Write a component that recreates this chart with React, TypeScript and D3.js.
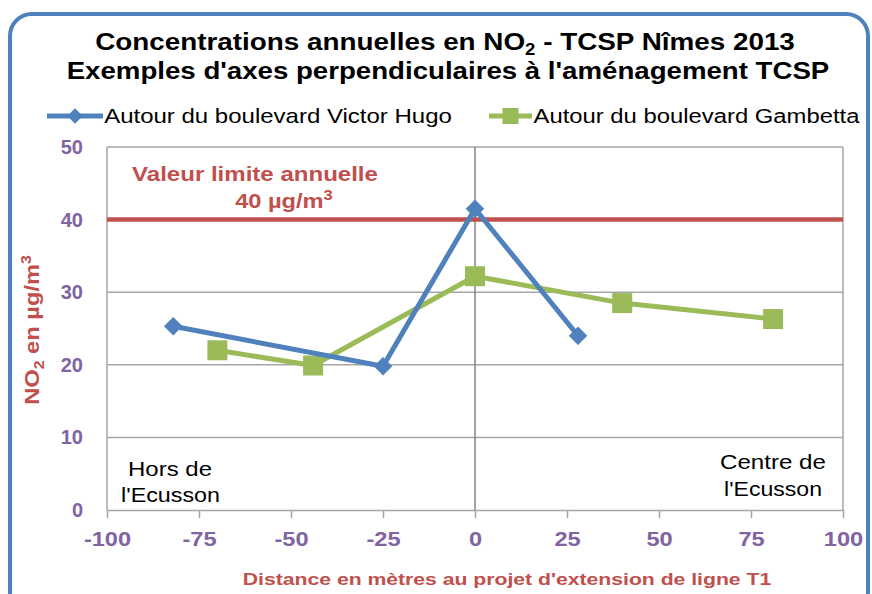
import { useEffect, useRef } from 'react'
import * as d3 from 'd3'

// data
const hugoX = [-82, -25, 0, 28]
const hugoY = [25.3, 19.8, 41.5, 24.0]
const gambettaX = [-70, -44, 0, 40, 81]
const gambettaY = [22.0, 19.9, 32.2, 28.5, 26.3]
const xTicks = [-100, -75, -50, -25, 0, 25, 50, 75, 100]
const yTicks = [0, 10, 20, 30, 40, 50]
const limitValue = 40

const BLUE = '#4F81BD'
const GREEN = '#9BBB59'
const RED = '#C0504D'
const PURPLE = '#8064A2'
const FONT = 'Liberation Sans, Arial, sans-serif'

// stretch a text horizontally so it spans targetW, keeping cx fixed
const fitWidth = (sel, cx, targetW) => {
	const w = sel.node().getBBox().width
	const s = targetW / w
	sel.attr('transform', `translate(${cx},0) scale(${s},1) translate(${-cx},0)`)
}

const App = () => {
	const svgRef = useRef(null)

	useEffect(() => {
		const width = 872
		const height = 594
		const margin = { top: 147, right: 29, bottom: 84, left: 107 }

		d3.select(svgRef.current).selectAll('*').remove()
		const svg = d3.select(svgRef.current).attr('width', width).attr('height', height)

		svg.append('rect').attr('width', width).attr('height', height).attr('fill', 'white')

		// rounded frame
		svg
			.append('rect')
			.attr('x', 10)
			.attr('y', 14)
			.attr('width', 858)
			.attr('height', 600)
			.attr('rx', 22)
			.attr('fill', 'white')
			.attr('stroke', BLUE)
			.attr('stroke-width', 4)

		const x = d3.scaleLinear().domain([-100, 100]).range([margin.left, width - margin.right])
		const y = d3.scaleLinear().domain([0, 50]).range([height - margin.bottom, margin.top])

		// gridlines
		svg
			.append('g')
			.selectAll('line')
			.data(yTicks.filter((d) => d > 0))
			.join('line')
			.attr('x1', x(-100))
			.attr('x2', x(100))
			.attr('y1', (d) => y(d))
			.attr('y2', (d) => y(d))
			.attr('stroke', '#A6A6A6')
			.attr('stroke-width', 1.5)

		// plot frame sides + zero line
		svg
			.append('g')
			.selectAll('line')
			.data([-100, 0, 100])
			.join('line')
			.attr('x1', (d) => x(d))
			.attr('x2', (d) => x(d))
			.attr('y1', y(50))
			.attr('y2', y(0))
			.attr('stroke', (d) => (d === 0 ? '#868686' : '#A6A6A6'))
			.attr('stroke-width', 1.5)

		// x axis
		const xAxis = svg
			.append('g')
			.attr('transform', `translate(0,${y(0)})`)
			.call(
				d3
					.axisBottom(x)
					.tickValues(xTicks)
					.tickSize(8)
					.tickSizeOuter(0)
					.tickPadding(14)
					.tickFormat((d) => String(d))
			)
		xAxis.select('.domain').attr('stroke', '#A6A6A6').attr('stroke-width', 1.5)
		xAxis.selectAll('.tick line').attr('stroke', '#A6A6A6').attr('stroke-width', 1.5)
		xAxis
			.selectAll('text')
			.attr('fill', PURPLE)
			.style('font', `bold 20px ${FONT}`)
			.each(function () {
				const t = d3.select(this)
				fitWidth(t, 0, this.getBBox().width * 1.18)
			})

		// y axis labels
		svg
			.append('g')
			.selectAll('text')
			.data(yTicks)
			.join('text')
			.attr('x', 83)
			.attr('y', (d) => y(d))
			.attr('dy', '0.35em')
			.attr('text-anchor', 'end')
			.attr('fill', PURPLE)
			.style('font', `bold 20px ${FONT}`)
			.text((d) => d)

		// limit line
		svg
			.append('line')
			.attr('x1', x(-100))
			.attr('x2', x(100))
			.attr('y1', y(limitValue))
			.attr('y2', y(limitValue))
			.attr('stroke', RED)
			.attr('stroke-width', 4.5)

		const line = d3
			.line()
			.x((d) => x(d[0]))
			.y((d) => y(d[1]))

		const hugo = hugoX.map((v, i) => [v, hugoY[i]])
		const gamb = gambettaX.map((v, i) => [v, gambettaY[i]])

		svg
			.append('path')
			.datum(gamb)
			.attr('d', line)
			.attr('fill', 'none')
			.attr('stroke', GREEN)
			.attr('stroke-width', 5)
			.attr('stroke-linejoin', 'round')
		svg
			.append('g')
			.selectAll('rect')
			.data(gamb)
			.join('rect')
			.attr('x', (d) => x(d[0]) - 10)
			.attr('y', (d) => y(d[1]) - 10)
			.attr('width', 20)
			.attr('height', 20)
			.attr('fill', GREEN)

		svg
			.append('path')
			.datum(hugo)
			.attr('d', line)
			.attr('fill', 'none')
			.attr('stroke', BLUE)
			.attr('stroke-width', 5)
			.attr('stroke-linejoin', 'round')
		const diamond = d3.symbol().type(d3.symbolDiamond2).size(220)
		svg
			.append('g')
			.selectAll('path')
			.data(hugo)
			.join('path')
			.attr('transform', (d) => `translate(${x(d[0])},${y(d[1])})`)
			.attr('d', diamond)
			.attr('fill', BLUE)

		// title
		const t1 = svg
			.append('text')
			.attr('x', 445)
			.attr('y', 50)
			.attr('text-anchor', 'middle')
			.attr('fill', 'black')
			.style('font', `bold 24px ${FONT}`)
		t1.append('tspan').text('Concentrations annuelles en NO')
		t1.append('tspan').attr('dy', 5).style('font-size', '16px').text('2')
		t1.append('tspan').attr('dy', -5).text(' - TCSP Nîmes 2013')
		fitWidth(t1, 445, 700)
		const t2 = svg
			.append('text')
			.attr('x', 448)
			.attr('y', 79)
			.attr('text-anchor', 'middle')
			.attr('fill', 'black')
			.style('font', `bold 24px ${FONT}`)
			.text("Exemples d'axes perpendiculaires à l'aménagement TCSP")
		fitWidth(t2, 448, 763)

		// legend
		const items = [
			{ label: 'Autour du boulevard Victor Hugo', color: BLUE, x0: 47, lw: 56, tw: 348, kind: 'diamond' },
			{ label: 'Autour du boulevard Gambetta', color: GREEN, x0: 489, lw: 43, tw: 327, kind: 'square' },
		]
		items.forEach((it) => {
			const g = svg.append('g').attr('transform', `translate(${it.x0},116)`)
			g.append('line').attr('x1', 0).attr('x2', it.lw).attr('stroke', it.color).attr('stroke-width', 5)
			if (it.kind === 'diamond') {
				g.append('path')
					.attr('transform', `translate(${it.lw / 2},0)`)
					.attr('d', d3.symbol().type(d3.symbolDiamond2).size(150))
					.attr('fill', it.color)
			} else {
				g.append('rect')
					.attr('x', it.lw / 2 - 8)
					.attr('y', -8)
					.attr('width', 16)
					.attr('height', 16)
					.attr('fill', it.color)
			}
			const tx = g
				.append('text')
				.attr('x', it.lw + 1 + it.tw / 2)
				.attr('dy', '0.35em')
				.attr('text-anchor', 'middle')
				.attr('fill', 'black')
				.style('font', `20px ${FONT}`)
				.text(it.label)
			fitWidth(tx, it.lw + 1 + it.tw / 2, it.tw)
		})

		// limit annotation
		const a1 = svg
			.append('text')
			.attr('x', 255)
			.attr('y', 181)
			.attr('text-anchor', 'middle')
			.attr('fill', RED)
			.style('font', `bold 20px ${FONT}`)
			.text('Valeur limite annuelle')
		fitWidth(a1, 255, 246)
		const a2 = svg
			.append('text')
			.attr('x', 284)
			.attr('y', 208)
			.attr('text-anchor', 'middle')
			.attr('fill', RED)
			.style('font', `bold 20px ${FONT}`)
		a2.append('tspan').text('40 µg/m')
		a2.append('tspan').attr('dy', -8).style('font-size', '14px').text('3')
		fitWidth(a2, 284, 98)

		// side notes
		const notes = [
			{ text: 'Hors de', cx: 170, y: 476, w: 84 },
			{ text: "l'Ecusson", cx: 170.5, y: 502, w: 99 },
			{ text: 'Centre de', cx: 773, y: 469, w: 106 },
			{ text: "l'Ecusson", cx: 773, y: 496, w: 98 },
		]
		notes.forEach((n) => {
			const t = svg
				.append('text')
				.attr('x', n.cx)
				.attr('y', n.y)
				.attr('text-anchor', 'middle')
				.attr('fill', 'black')
				.style('font', `20px ${FONT}`)
				.text(n.text)
			fitWidth(t, n.cx, n.w)
		})

		// axis titles
		const xt = svg
			.append('text')
			.attr('x', 507)
			.attr('y', 585)
			.attr('text-anchor', 'middle')
			.attr('fill', RED)
			.style('font', `bold 17px ${FONT}`)
			.text("Distance en mètres au projet d'extension de ligne T1")
		fitWidth(xt, 507, 529)

		const ytg = svg.append('g').attr('transform', `translate(39,330) rotate(-90)`)
		const yt = ytg
			.append('text')
			.attr('text-anchor', 'middle')
			.attr('fill', RED)
			.style('font', `bold 21px ${FONT}`)
		yt.append('tspan').text('NO')
		yt.append('tspan').attr('dy', 5).style('font-size', '14px').text('2')
		yt.append('tspan').attr('dy', -5).text(' en µg/m')
		yt.append('tspan').attr('dy', -8).style('font-size', '14px').text('3')
		fitWidth(yt, 0, 150)
	}, [])

	return <svg ref={svgRef} style={{ display: 'block', position: 'absolute', left: 0, top: 0 }}></svg>
}

export default App
